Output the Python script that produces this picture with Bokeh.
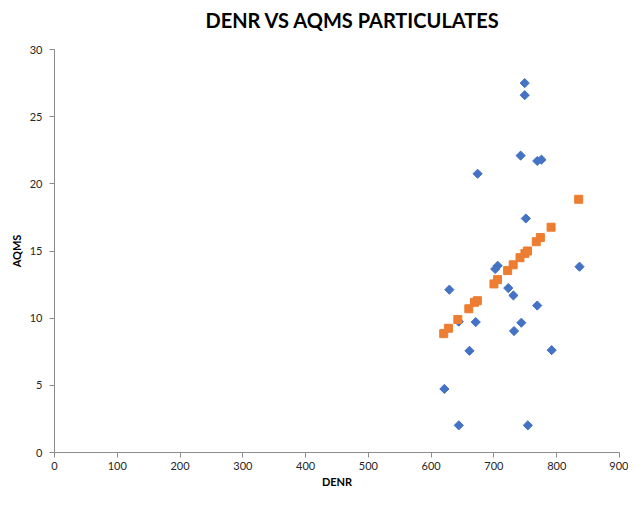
import math
from bokeh.plotting import figure
from bokeh.models import FixedTicker, Range1d, Title
from bokeh.embed import file_html
from bokeh.resources import INLINE

# Observed (AQMS) vs DENR
obs_x = [749, 749, 742.5, 769, 775.7, 674, 750.8, 702, 706, 836.3, 629, 722.8,
         731, 769, 644, 671, 743.6, 732, 661, 792, 621, 644, 754]
obs_y = [27.5, 26.6, 22.1, 21.7, 21.8, 20.75, 17.42, 13.66, 13.9, 13.83, 12.12, 12.24,
         11.69, 10.94, 9.74, 9.71, 9.66, 9.04, 7.57, 7.62, 4.73, 2.02, 2.02]

# Predicted series (orange squares)
pred_x = [620, 627.5, 642.5, 660, 669, 673.6, 700, 705.7, 721.8, 730.6, 741.5,
          749.3, 753.4, 767.4, 774, 791, 835]
pred_y = [8.85, 9.25, 9.9, 10.7, 11.18, 11.3, 12.55, 12.87, 13.54, 13.97, 14.5,
          14.82, 15.0, 15.69, 16.0, 16.77, 18.85]

x_ticks = [0, 100, 200, 300, 400, 500, 600, 700, 800, 900]
y_ticks = [0, 5, 10, 15, 20, 25, 30]
title_text = "DENR VS AQMS PARTICULATES"

FONT = "Lato"
AXIS_COLOR = "#8c8c8c"
TEXT_COLOR = "#262626"

p = figure(width=628, height=490, output_backend="svg", toolbar_location=None,
           x_range=Range1d(0, 900), y_range=Range1d(0, 30),
           min_border_left=54, min_border_right=9, min_border_top=49, min_border_bottom=34)
p.outline_line_color = None
p.xgrid.visible = False
p.ygrid.visible = False

for ax in (p.xaxis[0], p.yaxis[0]):
    ax.axis_line_color = AXIS_COLOR
    ax.major_tick_line_color = AXIS_COLOR
    ax.minor_tick_line_color = None
    ax.major_tick_in = 0
    ax.major_tick_out = 5
    ax.major_label_text_font = FONT
    ax.major_label_text_font_size = "11px"
    ax.major_label_text_color = TEXT_COLOR
    ax.axis_label_text_font = FONT
    ax.axis_label_text_font_size = "11px"
    ax.axis_label_text_font_style = "bold"
    ax.axis_label_text_color = "#000000"

p.xaxis[0].ticker = FixedTicker(ticks=x_ticks)
p.yaxis[0].ticker = FixedTicker(ticks=y_ticks)
p.xaxis[0].axis_label = "DENR"
p.yaxis[0].axis_label = "AQMS"
p.xaxis[0].major_label_standoff = 4
p.xaxis[0].axis_label_standoff = 2
p.yaxis[0].major_label_standoff = 7
p.yaxis[0].axis_label_standoff = 4

p.scatter(obs_x, obs_y, marker="square", size=6.5, angle=math.pi / 4,
          fill_color="#4472C4", line_color="#4472C4")
p.scatter(pred_x, pred_y, marker="square", size=8,
          fill_color="#ED7D31", line_color="#ED7D31")

# spacer (nearest the frame), then the main title above it
p.add_layout(Title(text=" ", text_font_size="14px", standoff=0), "above")
p.add_layout(Title(text=title_text, align="left", offset=151, standoff=0,
                   text_font=FONT, text_font_size="20px", text_font_style="bold",
                   text_color="#000000"), "above")

open("out.html", "w").write(file_html(p, INLINE))
